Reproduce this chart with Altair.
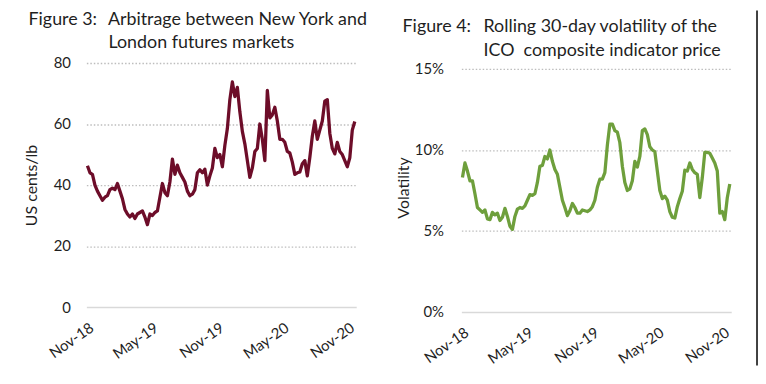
import altair as alt
import pandas as pd

# ---- data (weekly samples) ----
week_dates = pd.date_range("2018-11-01", periods=108, freq="7D").strftime("%Y-%m-%d").tolist()

arbitrage_us_cents = [
    46.3, 44, 43.5, 40, 38, 36.5, 35, 36, 36.5, 38.5,
    39, 38.5, 40.5, 38, 35.5, 32, 30.5, 29.5, 30.5, 29,
    30.5, 31, 31.5, 29.5, 27, 30.5, 30, 31, 31.5, 36,
    40.5, 37.5, 36.5, 41, 48.5, 43.5, 46.5, 44, 42.5, 41,
    38, 36.5, 37, 38.5, 44, 45, 44, 45.2, 40, 43,
    45.6, 52, 49, 50, 46, 53, 58.5, 68, 73.8, 69,
    72, 64, 57.6, 53.5, 48, 42.5, 45.6, 51, 52, 60,
    55, 48, 71, 62, 63, 65.5, 61, 55, 55, 54,
    51, 50.5, 47.5, 43.5, 44, 44.3, 47, 48, 43, 49,
    56, 61, 55, 58, 61, 67.5, 68, 57, 52, 50.2,
    54, 51, 50, 48, 46, 48.9, 58, 60.8,
]

volatility_pct = [
    8.3, 9.2, 8.7, 8.1, 8.1, 7.3, 6.45, 6.3, 6.15, 6.3,
    5.75, 5.7, 6.15, 6.0, 6.1, 5.65, 5.85, 6.4, 5.9, 5.3,
    5.1, 5.9, 6.35, 6.45, 6.4, 6.55, 6.9, 7.25, 7.2, 7.3,
    8.0, 9.0, 9.05, 9.6, 9.45, 10.0, 9.3, 8.8, 8.5, 7.7,
    6.9, 6.45, 5.95, 6.25, 6.7, 6.45, 6.1, 6.1, 6.3, 6.25,
    6.2, 6.3, 6.5, 6.9, 7.7, 8.2, 8.2, 8.6, 10.3, 11.6,
    11.6, 11.2, 11.1, 10.45, 9.0, 8.0, 7.5, 7.6, 8.1, 9.3,
    8.95, 9.6, 11.2, 11.3, 10.95, 10.2, 10.0, 9.9, 8.7, 7.5,
    7.0, 7.15, 6.9, 6.2, 5.85, 5.8, 6.5, 7.0, 7.45, 8.75,
    8.7, 9.2, 8.8, 8.6, 8.5, 7.06, 8.3, 9.85, 9.85, 9.8,
    9.5, 9.2, 8.7, 6.1, 6.2, 5.7, 7.05, 7.9,
]

fig3_label = "Figure 3:"
fig3_title = ["Arbitrage between New York and", "London futures markets"]
fig3_ytitle = "US cents/lb"
fig4_label = "Figure 4:"
fig4_title = ["Rolling 30-day volatility of the", "ICO\u00a0 composite indicator price"]
fig4_ytitle = "Volatility"

x_tick_months = [(2018, 11), (2019, 5), (2019, 11), (2020, 5), (2020, 11)]
left_y_ticks = [0, 20, 40, 60, 80]
right_y_ticks = [0, 5, 10, 15]

FONT = "Lato"
TXT = "#1f1f1f"
MAROON = "#6d0d29"
GREEN = "#6e9f3c"

x_domain = [alt.DateTime(year=2018, month=10, date=29, utc=True),
            alt.DateTime(year=2020, month=11, date=23, utc=True)]
x_values = [alt.DateTime(year=y, month=m, date=1, utc=True) for y, m in x_tick_months]

grid_dash = {"condition": {"test": "datum.value === 0", "value": [1, 0]}, "value": [1.5, 2]}
grid_color = {"condition": {"test": "datum.value === 0", "value": "#d9d9d9"}, "value": "#bdbdbd"}
grid_width = {"condition": {"test": "datum.value === 0", "value": 1.6}, "value": 1.3}


def x_axis():
    return alt.Axis(values=x_values, labelExpr="utcFormat(datum.value, '%b-%y')", labelAngle=-35,
                    labelAlign="right", labelBaseline="top", labelPadding=13,
                    labelFont=FONT, labelFontSize=15, labelColor=TXT, labelFlush=False,
                    labelOverlap=False, grid=False, domain=False, ticks=False, title=None)


def y_axis(values, title, label_pad, title_pad, label_expr=None):
    kw = dict(values=values, title=title, grid=True, gridDash=grid_dash, gridColor=grid_color,
              gridWidth=grid_width, domain=False, ticks=False, labelPadding=label_pad,
              titlePadding=title_pad, labelFont=FONT, labelFontSize=15, labelColor=TXT,
              titleFont=FONT, titleFontSize=16, titleFontWeight="normal", titleColor=TXT,
              labelFlush=False)
    if label_expr:
        kw["labelExpr"] = label_expr
    return alt.Axis(**kw)


def text_layer(s, x, y):
    return alt.Chart(pd.DataFrame({"t": [s]})).mark_text(
        align="left", baseline="alphabetic", font=FONT, fontSize=18, color=TXT
    ).encode(text="t:N", x=alt.value(x), y=alt.value(y))


df_left = pd.DataFrame({"date": week_dates, "value": arbitrage_us_cents})
df_right = pd.DataFrame({"date": week_dates, "value": volatility_pct})

line_left = alt.Chart(df_left).mark_line(color=MAROON, strokeWidth=3.3, strokeJoin="round").encode(
    x=alt.X("date:T", scale=alt.Scale(type="utc", domain=x_domain), axis=x_axis()),
    y=alt.Y("value:Q", scale=alt.Scale(domain=[0, 80], nice=False),
            axis=y_axis(left_y_ticks, fig3_ytitle, 16, 14)),
)

line_right = alt.Chart(df_right).mark_line(color=GREEN, strokeWidth=3.3, strokeJoin="round").encode(
    x=alt.X("date:T", scale=alt.Scale(type="utc", domain=x_domain), axis=x_axis()),
    y=alt.Y("value:Q", scale=alt.Scale(domain=[0, 15.37], nice=False),
            axis=y_axis(right_y_ticks, fig4_ytitle, 18, 3, "datum.value + '%'")),
)

pin_left = alt.Chart(pd.DataFrame({"a": [0]})).mark_rule(color="white", strokeWidth=1).encode(
    x=alt.value(-78), x2=alt.value(-77), y=alt.value(150))

right_border = alt.Chart(pd.DataFrame({"a": [0]})).mark_rule(color="black", strokeWidth=1.5).encode(
    x=alt.value(298), y=alt.value(-53), y2=alt.value(305))

left = alt.layer(
    line_left,
    text_layer(fig3_label, -58.3, -38.7),
    text_layer(fig3_title[0], 21.7, -38.7),
    text_layer(fig3_title[1], 22.3, -15.3),
    pin_left,
).properties(width=272, height=246)

right = alt.layer(
    line_right,
    text_layer(fig4_label, -59.3, -31.7),
    text_layer(fig4_title[0], 22.3, -31.7),
    text_layer(fig4_title[1], 22.3, -7.3),
    right_border,
).properties(width=272, height=251)

chart = alt.hconcat(left, right, spacing=106, bounds="flush").properties(
    padding=0, background="white"
).configure_view(strokeWidth=0)

chart.save("out.html", embed_options={"renderer": "svg", "actions": False})
